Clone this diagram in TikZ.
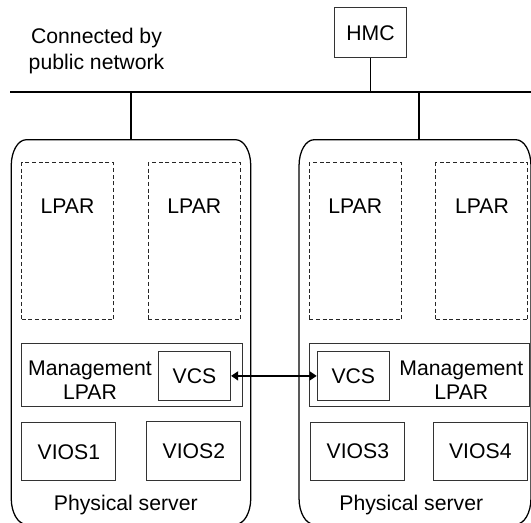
\documentclass[tikz,border=0pt]{standalone}
\usepackage{fontspec}
\setmainfont{Liberation Sans}
\usetikzlibrary{calc,arrows.meta}
\newcommand\srvoutline[1]{%
 \draw[srvline] ($(#1.north west)+(15,0)$) -- ($(#1.north east)+(-15,0)$)
   .. controls ($(#1.north east)+(-6.7,0)$) and ($(#1.north east)+(0,11.6)$) .. ($(#1.north east)+(0,26)$)
   -- ($(#1.south east)+(0,-26)$)
   .. controls ($(#1.south east)+(0,-11.6)$) and ($(#1.south east)+(-6.7,0)$) .. ($(#1.south east)+(-15,0)$)
   -- ($(#1.south west)+(15,0)$)
   .. controls ($(#1.south west)+(6.7,0)$) and ($(#1.south west)+(0,-11.6)$) .. ($(#1.south west)+(0,-26)$)
   -- ($(#1.north west)+(0,26)$)
   .. controls ($(#1.north west)+(0,11.6)$) and ($(#1.north west)+(6.7,0)$) .. cycle;}
\begin{document}
\begin{tikzpicture}[x=0.75pt,y=-0.75pt,
  every node/.style={font=\fontsize{15.9}{19.5}\selectfont, text=black},
  box/.style={draw=black!80, line width=0.75pt, inner sep=0pt},
  lpar/.style={box, draw=black!85, dash pattern=on 3pt off 2pt, minimum width=69pt, minimum height=117.75pt},
  mgmt/.style={box, minimum width=165.3pt, minimum height=47.55pt},
  vcs/.style={box, minimum width=54.15pt, minimum height=36.2pt},
  vios/.style={box, minimum width=70.7pt, minimum height=43.65pt},
  server/.style={inner sep=0pt, minimum height=288pt},
  srvline/.style={draw=black, line width=0.95pt},
  bus/.style={draw=black, line width=1.3pt},
  link/.style={draw=black, line width=1pt, {Triangle[length=5.25pt,width=6.75pt]}-{Triangle[length=5.25pt,width=6.75pt]}},
  mtext/.style={align=center, font=\fontsize{15.9}{18}\selectfont}
]
\useasboundingbox (0,0) rectangle (531,523);
\clip (0,0) rectangle (531,523);

% network
\node[box, minimum width=53.9pt, minimum height=37.2pt] (hmc) at (370.5,32.8) {HMC};
\node[align=center] (net) at (96.5,51) {Connected by\\public network};
\coordinate (busL) at (10,92);
\coordinate (busR) at (531,92);
\draw[bus] (busL) -- (busR);
\draw[bus] (hmc.south) -- (hmc.south |- busL);

% servers
\node[server, minimum width=179.25pt] (s1) at (131,332) {};
\node[server, minimum width=173.55pt] (s2) at (415,332) {};
\srvoutline{s1}
\srvoutline{s2}
\coordinate (b1) at (130.7,92);
\coordinate (b2) at (418.9,92);
\draw[bus] (b1) -- (b1 |- s1.north);
\draw[bus] (b2) -- (b2 |- s2.north);

% LPARs
\node[lpar, label={[anchor=center, yshift=-33pt]north:LPAR}] (l1) at (67.5,241.5) {};
\node[lpar, label={[anchor=center, yshift=-33pt]north:LPAR}] (l2) at (194.3,241.5) {};
\node[lpar, label={[anchor=center, yshift=-33pt]north:LPAR}] (l3) at (355.2,241.5) {};
\node[lpar, label={[anchor=center, yshift=-33pt]north:LPAR}] (l4) at (481.9,241.5) {};

% management LPARs
\node[mgmt] (m1) at (132,375) {};
\node[mtext] (m1t) at (90,380) {Management\\LPAR};
\node[vcs] (v1) at (194.5,375.9) {VCS};
\node[mgmt] (m2) at (419.3,375) {};
\node[mtext] (m2t) at (461.3,380) {Management\\LPAR};
\node[vcs] (v2) at (353.3,375.9) {VCS};
\draw[link] (v1.east) -- (v2.west);

% VIOS
\node[vios] (vios1) at (68.85,451.8) {VIOS1};
\node[vios] (vios2) at (193.85,451) {VIOS2};
\node[vios] (vios3) at (357.85,451.3) {VIOS3};
\node[vios] (vios4) at (480.3,451.3) {VIOS4};

\node (p1) at (125.8,505) {Physical server};
\node (p2) at (411.3,505) {Physical server};
\end{tikzpicture}
\end{document}
